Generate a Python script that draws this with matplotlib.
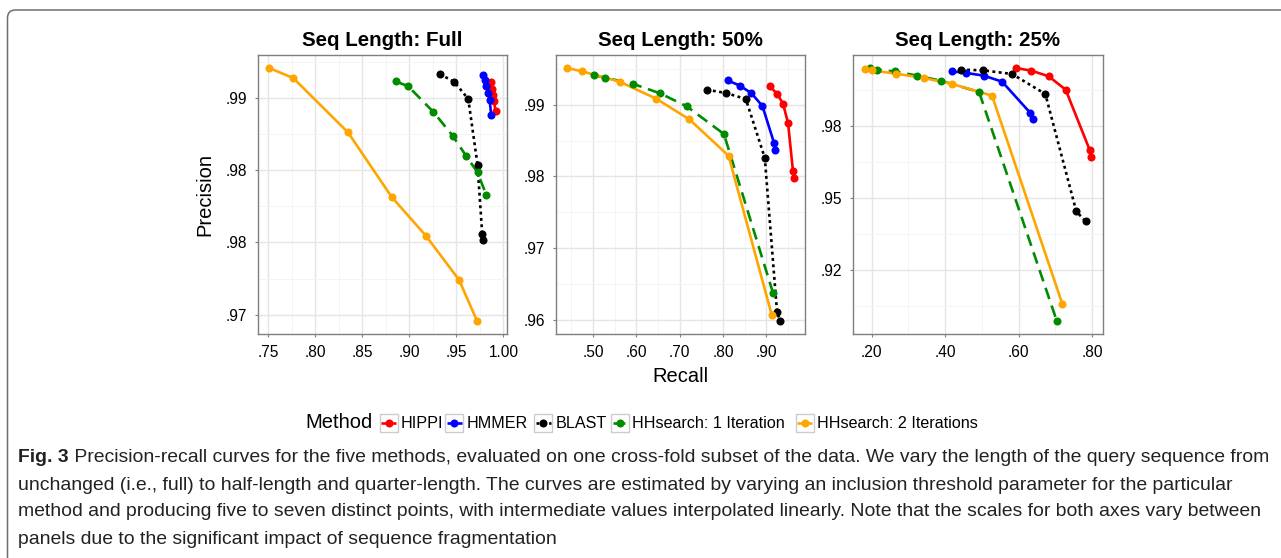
"""
Precision-recall curves, three sequence lengths (ggplot theme_bw look)
"""

import numpy as np
import matplotlib
matplotlib.use("Agg")
import matplotlib.pyplot as plt
from matplotlib.lines import Line2D
from matplotlib.patches import Rectangle, FancyBboxPatch
from matplotlib.transforms import IdentityTransform
from matplotlib import font_manager

# ─────────────────────────────────────────────
# DATA
# ─────────────────────────────────────────────
methods = ["HIPPI", "HMMER", "BLAST", "HHsearch: 1 Iteration", "HHsearch: 2 Iterations"]
panel_titles = ["Seq Length: Full", "Seq Length: 50%", "Seq Length: 25%"]

# Full length
full_hippi_r = [0.9865, 0.9879, 0.9890, 0.9900, 0.9918]
full_hippi_p = [0.99108, 0.99062, 0.99023, 0.98976, 0.98907]
full_hmmer_r = [0.9783, 0.9801, 0.9819, 0.9836, 0.9854, 0.9870]
full_hmmer_p = [0.99161, 0.99122, 0.99080, 0.99035, 0.98988, 0.98884]
full_blast_r = [0.9324, 0.9479, 0.9627, 0.9725, 0.9775, 0.9782]
full_blast_p = [0.99166, 0.99111, 0.98993, 0.98539, 0.98059, 0.98019]
full_hh1_r = [0.8859, 0.8989, 0.9257, 0.9461, 0.9602, 0.9725, 0.9817]
full_hh1_p = [0.99115, 0.99081, 0.98903, 0.98739, 0.98601, 0.98485, 0.98331]
full_hh2_r = [0.7510, 0.7768, 0.8349, 0.8813, 0.9176, 0.9528, 0.9722]
full_hh2_p = [0.99208, 0.99138, 0.98762, 0.98315, 0.98047, 0.97742, 0.97454]

# 50% length
half_hippi_r = [0.9077, 0.9245, 0.9383, 0.9498, 0.9613, 0.9628]
half_hippi_p = [0.99256, 0.99153, 0.99014, 0.98744, 0.98070, 0.97977]
half_hmmer_r = [0.8103, 0.8387, 0.8648, 0.8908, 0.9176, 0.9192]
half_hmmer_p = [0.99340, 0.99265, 0.99163, 0.98981, 0.98465, 0.98372]
half_blast_r = [0.7621, 0.8065, 0.8525, 0.8962, 0.9245, 0.9322]
half_blast_p = [0.99209, 0.99163, 0.99079, 0.98256, 0.96102, 0.95977]
half_hh1_r = [0.5015, 0.5268, 0.5912, 0.6548, 0.7161, 0.8019, 0.9153]
half_hh1_p = [0.99414, 0.99377, 0.99293, 0.99158, 0.98977, 0.98591, 0.96372]
half_hh2_r = [0.4402, 0.4747, 0.5613, 0.6456, 0.7222, 0.8126, 0.9123]
half_hh2_p = [0.99512, 0.99465, 0.99321, 0.99084, 0.98795, 0.98288, 0.96065]

# 25% length
quart_hippi_r = [0.5924, 0.6350, 0.6821, 0.7283, 0.7935, 0.7981]
quart_hippi_p = [0.99502, 0.99410, 0.99213, 0.98750, 0.96667, 0.96400]
quart_hmmer_r = [0.4202, 0.4583, 0.5054, 0.5552, 0.6322, 0.6395]
quart_hmmer_p = [0.99387, 0.99329, 0.99236, 0.99028, 0.97940, 0.97743]
quart_blast_r = [0.4429, 0.5036, 0.5824, 0.6730, 0.7573, 0.7827]
quart_blast_p = [0.99444, 0.99421, 0.99294, 0.98600, 0.94525, 0.94178]
quart_hh1_r = [0.1962, 0.2144, 0.2625, 0.3240, 0.3876, 0.4925, 0.7046]
quart_hh1_p = [0.99503, 0.99444, 0.99385, 0.99236, 0.99063, 0.98670, 0.90705]
quart_hh2_r = [0.1810, 0.2016, 0.2653, 0.3414, 0.4191, 0.5279, 0.7193]
quart_hh2_p = [0.99479, 0.99420, 0.99306, 0.99156, 0.98948, 0.98542, 0.91309]

# axis ticks / labels per panel
full_xticks = [0.75, 0.80, 0.85, 0.90, 0.95, 1.00]
full_xlabels = [".75", ".80", ".85", ".90", ".95", "1.00"]
full_yticks = [0.975, 0.980, 0.985, 0.990]
full_ylabels = [".97", ".98", ".98", ".99"]
half_xticks = [0.50, 0.60, 0.70, 0.80, 0.90]
half_xlabels = [".50", ".60", ".70", ".80", ".90"]
half_yticks = [0.96, 0.97, 0.98, 0.99]
half_ylabels = [".96", ".97", ".98", ".99"]
quart_xticks = [0.20, 0.40, 0.60, 0.80]
quart_xlabels = [".20", ".40", ".60", ".80"]
quart_yticks = [0.925, 0.950, 0.975]
quart_ylabels = [".92", ".95", ".98"]

caption_bold = "Fig. 3"
caption_lines = [
    " Precision-recall curves for the five methods, evaluated on one cross-fold subset of the data. We vary the length of the query sequence from",
    "unchanged (i.e., full) to half-length and quarter-length. The curves are estimated by varying an inclusion threshold parameter for the particular",
    "method and producing five to seven distinct points, with intermediate values interpolated linearly. Note that the scales for both axes vary between",
    "panels due to the significant impact of sequence fragmentation",
]

# ─────────────────────────────────────────────
# STYLE
# ─────────────────────────────────────────────
colors = ["#FF0000", "#0000FF", "#000000", "#008B00", "#FFA500"]
styles = ["-", "-", (0, (1.1, 1.3)), (0, (4.5, 2.6)), "-"]

names = set(f.name for f in font_manager.fontManager.ttflist)
BASE_FONT = "Liberation Sans" if "Liberation Sans" in names else "DejaVu Sans"
CAP_FONT = "Liberation Sans Narrow" if "Liberation Sans Narrow" in names else BASE_FONT
plt.rcParams["font.family"] = BASE_FONT

W, H = 1281, 558
fig = plt.figure(figsize=(W / 100, H / 100), dpi=100)


def fx(x):
    return x / W


def fy(y):
    return 1 - y / H


def expand(vals, frac=0.05):
    lo, hi = min(vals), max(vals)
    pad = (hi - lo) * frac
    return lo - pad, hi + pad


panels = [
    ([full_hippi_r, full_hmmer_r, full_blast_r, full_hh1_r, full_hh2_r],
     [full_hippi_p, full_hmmer_p, full_blast_p, full_hh1_p, full_hh2_p],
     full_xticks, full_xlabels, full_yticks, full_ylabels),
    ([half_hippi_r, half_hmmer_r, half_blast_r, half_hh1_r, half_hh2_r],
     [half_hippi_p, half_hmmer_p, half_blast_p, half_hh1_p, half_hh2_p],
     half_xticks, half_xlabels, half_yticks, half_ylabels),
    ([quart_hippi_r, quart_hmmer_r, quart_blast_r, quart_hh1_r, quart_hh2_r],
     [quart_hippi_p, quart_hmmer_p, quart_blast_p, quart_hh1_p, quart_hh2_p],
     quart_xticks, quart_xlabels, quart_yticks, quart_ylabels),
]

lefts = [257.7, 555.7, 853.3]
pw, top, bot = 249.3, 55.3, 334.0

for i, (xs, ys, xt, xl, yt, yl) in enumerate(panels):
    ax = fig.add_axes([fx(lefts[i]), fy(bot), pw / W, (bot - top) / H])
    for k in range(len(methods)):
        ax.plot(xs[k], ys[k], color=colors[k], linestyle=styles[k],
                linewidth=1.9, solid_capstyle="butt", dash_capstyle="butt", zorder=3)
    for k in range(len(methods)):
        ax.plot(xs[k], ys[k], "o", color=colors[k], markersize=5.8,
                markeredgewidth=0, zorder=4)

    # major ticks + minor grid at midpoints
    ax.set_xticks(xt)
    ax.set_xticklabels(xl)
    ax.set_yticks(yt)
    ax.set_yticklabels(yl)
    dx = (xt[1] - xt[0]) / 2
    dy = (yt[1] - yt[0]) / 2
    ax.set_xticks(np.arange(xt[0] - dx, xt[-1] + 2 * dx, 2 * dx), minor=True)
    ax.set_yticks(np.arange(yt[0] - dy, yt[-1] + 2 * dy, 2 * dy), minor=True)
    # ggplot-style 5% expansion of the data range
    ax.set_xlim(*expand(sum(xs, [])))
    ax.set_ylim(*expand(sum(ys, [])))

    ax.grid(which="major", color="#E5E5E5", linewidth=1.0, zorder=0)
    ax.grid(which="minor", color="#F4F4F4", linewidth=0.7, zorder=0)
    ax.set_axisbelow(True)
    ax.tick_params(which="major", length=2.5, width=0.8, color="#7F7F7F",
                   labelsize=11.2, pad=5.2, labelcolor="black")
    ax.tick_params(which="minor", length=0)
    for s in ax.spines.values():
        s.set_color("#7F7F7F")
        s.set_linewidth(1.0)
    ax.set_title(panel_titles[i], fontsize=14.8, fontweight="bold", pad=7)

fig.text(fx(205), fy(195), "Precision", rotation=90, fontsize=14.5,
         ha="center", va="center")
fig.text(fx(680), fy(377), "Recall", fontsize=14.5, ha="center", va="center")

# ─────────────────────────────────────────────
# LEGEND (drawn by hand to mimic ggplot's bottom legend)
# ─────────────────────────────────────────────
leg_y = 423
fig.text(fx(305), fy(leg_y), "Method", fontsize=14.5, ha="left", va="center")
key_x = [379.5, 445.0, 534.0, 611.0, 795.5]
key_size = 18
for k, name in enumerate(methods):
    x0 = key_x[k]
    fig.add_artist(Rectangle((fx(x0), fy(leg_y + key_size / 2)), key_size / W, key_size / H,
                             transform=fig.transFigure, facecolor="white",
                             edgecolor="#CCCCCC", linewidth=1.0))
    fig.add_artist(Line2D([fx(x0 + 1.5), fx(x0 + key_size - 1.5)], [fy(leg_y), fy(leg_y)],
                          transform=fig.transFigure, color=colors[k],
                          linestyle=styles[k], linewidth=1.9, solid_capstyle="butt"))
    fig.add_artist(Line2D([fx(x0 + key_size / 2)], [fy(leg_y)], transform=fig.transFigure,
                          marker="o", color=colors[k], markersize=5.8, markeredgewidth=0))
    fig.text(fx(x0 + key_size + 3.5), fy(leg_y), name, fontsize=11.6,
             ha="left", va="center")

# ─────────────────────────────────────────────
# CAPTION
# ─────────────────────────────────────────────
renderer = fig.canvas.get_renderer()
cap_size = 13.0
cap_x = 18
cap_ys = [458, 485, 512, 540]
tb = fig.text(fx(cap_x), fy(cap_ys[0]), caption_bold, fontsize=cap_size,
              fontweight="bold", family=CAP_FONT, ha="left", va="center", color="#222222")
t1 = fig.text(fx(cap_x), fy(cap_ys[0]), caption_lines[0], fontsize=cap_size,
              family=CAP_FONT, ha="left", va="center", color="#222222")
# fit first line to its width in the reference
wb = tb.get_window_extent(renderer).width
w1 = t1.get_window_extent(renderer).width
cap_size *= (1265 - cap_x) / (wb + w1)
tb.set_fontsize(cap_size)
t1.set_fontsize(cap_size)
wb = tb.get_window_extent(renderer).width
t1.set_x(fx(cap_x + wb))
for line, y in zip(caption_lines[1:], cap_ys[1:]):
    fig.text(fx(cap_x), fy(y), line, fontsize=cap_size, family=CAP_FONT,
             ha="left", va="center", color="#222222")

# outer frame with rounded top-left corner
fig.add_artist(FancyBboxPatch((7.5, -60), 1400, H - 10 + 60,
                              boxstyle="round,pad=0,rounding_size=8",
                              transform=IdentityTransform(), facecolor="none",
                              edgecolor="#6E6E6E", linewidth=1.1))

fig.savefig("out.png", dpi=100)
